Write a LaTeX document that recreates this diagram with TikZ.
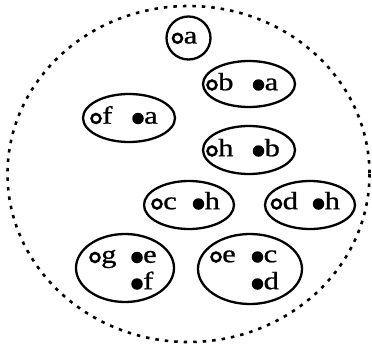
\documentclass[tikz,border=0pt]{standalone}
\usepackage{fontspec}
\setmainfont{Liberation Serif}
\newfontfamily\labfont{Liberation Serif}[FakeBold=0.8]
\usetikzlibrary{shapes.geometric}
% letters are set wide
\newcommand\wide[1]{\scalebox{1.22}[1]{#1}}
% one hollow-marked entry: ring plus letter
\newcommand\hentry[3]{\node[hol] (#1) at (#2) {};
  \node[lab] (#1t) at ([xshift=0.3pt,yshift=-5.2pt]#1.east) {\wide{#3}};}
% one solid-marked entry: dot plus letter
\newcommand\sentry[3]{\node[sol] (#1) at (#2) {};
  \node[lab] (#1t) at ([xshift=0pt,yshift=-5.2pt]#1.east) {\wide{#3}};}
\begin{document}
\begin{tikzpicture}[x=1pt,y=-1pt,
  set/.style={draw, ellipse, line width=2.3pt, inner sep=0pt},
  hol/.style={circle, draw, line width=2.5pt, minimum size=9pt, inner sep=0pt},
  sol/.style={circle, fill, minimum size=11.5pt, inner sep=0pt},
  lab/.style={font=\labfont\fontsize{25}{25}\selectfont, anchor=base west, inner sep=0pt},
]
\useasboundingbox (0,0) rectangle (372,345);
% surrounding dotted boundary
\draw[line width=2.6pt, dash pattern=on 3.5pt off 6pt]
  (188.5,174) ellipse [x radius=181, y radius=168];

% the sets
\node[set, minimum width=44pt, minimum height=43pt] (sa) at (188.5,38) {};
\node[set, minimum width=92pt, minimum height=46pt] (sb) at (249,84) {};
\node[set, minimum width=92pt, minimum height=48pt] (sf) at (129,118) {};
\node[set, minimum width=92pt, minimum height=48pt] (sh) at (249,150) {};
\node[set, minimum width=90pt, minimum height=48pt] (sc) at (189,205) {};
\node[set, minimum width=90pt, minimum height=48pt] (sd) at (310,205) {};
\node[set, minimum width=98pt, minimum height=68pt] (sg) at (125,268) {};
\node[set, minimum width=104pt, minimum height=70pt] (se) at (250,269) {};

% contents
\hentry{a1}{177.5,38.3}{a}
\hentry{b1}{212,85}{b}
\sentry{b2}{258.5,85}{a}
\hentry{f1}{96,118.5}{f}
\sentry{f2}{138,118.5}{a}
\hentry{h1}{212,151}{h}
\sentry{h2}{258.5,151}{b}
\hentry{c1}{157,204}{c}
\sentry{c2}{198.5,204}{h}
\hentry{d1}{276.5,204}{d}
\sentry{d2}{318.5,204}{h}
\hentry{g1}{95,257.5}{g}
\sentry{g2}{137,257.5}{e}
\sentry{g3}{137,284}{f}
\hentry{e1}{216,257}{e}
\sentry{e2}{257.5,257}{c}
\sentry{e3}{257.5,284}{d}
\end{tikzpicture}
\end{document}
